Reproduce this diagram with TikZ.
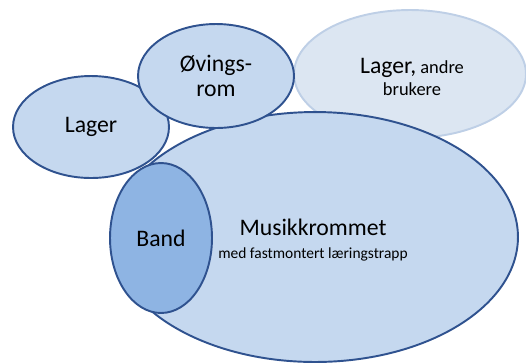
\documentclass[tikz,border=0pt]{standalone}
\usepackage{fontspec}
\setmainfont{Carlito}
\usetikzlibrary{positioning, shapes.geometric}
\definecolor{roomfill}{RGB}{197,216,239}
\definecolor{roomline}{RGB}{47,82,143}
\definecolor{bandfill}{RGB}{142,180,227}
\definecolor{otherfill}{RGB}{220,230,242}
\definecolor{otherline}{RGB}{190,207,230}
\tikzset{
	room/.style = {ellipse, draw=roomline, line width=1.1pt, fill=roomfill, inner sep=0pt, align=center, font=\fontsize{13.5}{15}\selectfont},
	other/.style = {ellipse, draw=otherline, line width=1.1pt, fill=otherfill, inner sep=0pt, align=center},
	band/.style = {room, fill=bandfill},
	caption/.style = {align=center, inner sep=0pt}
}
\begin{document}
\begin{tikzpicture}[x=0.02cm, y=-0.02cm]
		\useasboundingbox (0,0) rectangle (526,363);
		
		% Back: storage for other users
		\node (lager_andre) [other, minimum width=4.64cm, minimum height=2.56cm] at (410,74) {};
		
		% Main room
		\node (musikk) [room, minimum width=8.12cm, minimum height=5.0cm] at (315,237) {};
		
		% Small rooms
		\node (lager) [room, minimum width=3.12cm, minimum height=2.04cm] at (91,127) {Lager};
		\node (ovings) [room, minimum width=3.12cm, minimum height=2.08cm] at (216,76) {Øvings-\\[-1pt]rom};
		\node (band) [band, minimum width=2.04cm, minimum height=3.0cm] at (161,238) {Band};
		
		% Texts
		\node (lager_andre_txt) [caption] at (412,77) {{\fontsize{13.5}{15}\selectfont Lager,} {\fontsize{10.5}{12}\selectfont andre}\\[1pt]{\fontsize{10.5}{12}\selectfont brukere}};
		\node (musikk_txt) [caption] at (313,240) {{\fontsize{13.5}{15}\selectfont Musikkrommet}\\[1pt]{\fontsize{8.8}{10}\selectfont med fastmontert læringstrapp}};
		
	\end{tikzpicture}
\end{document}
